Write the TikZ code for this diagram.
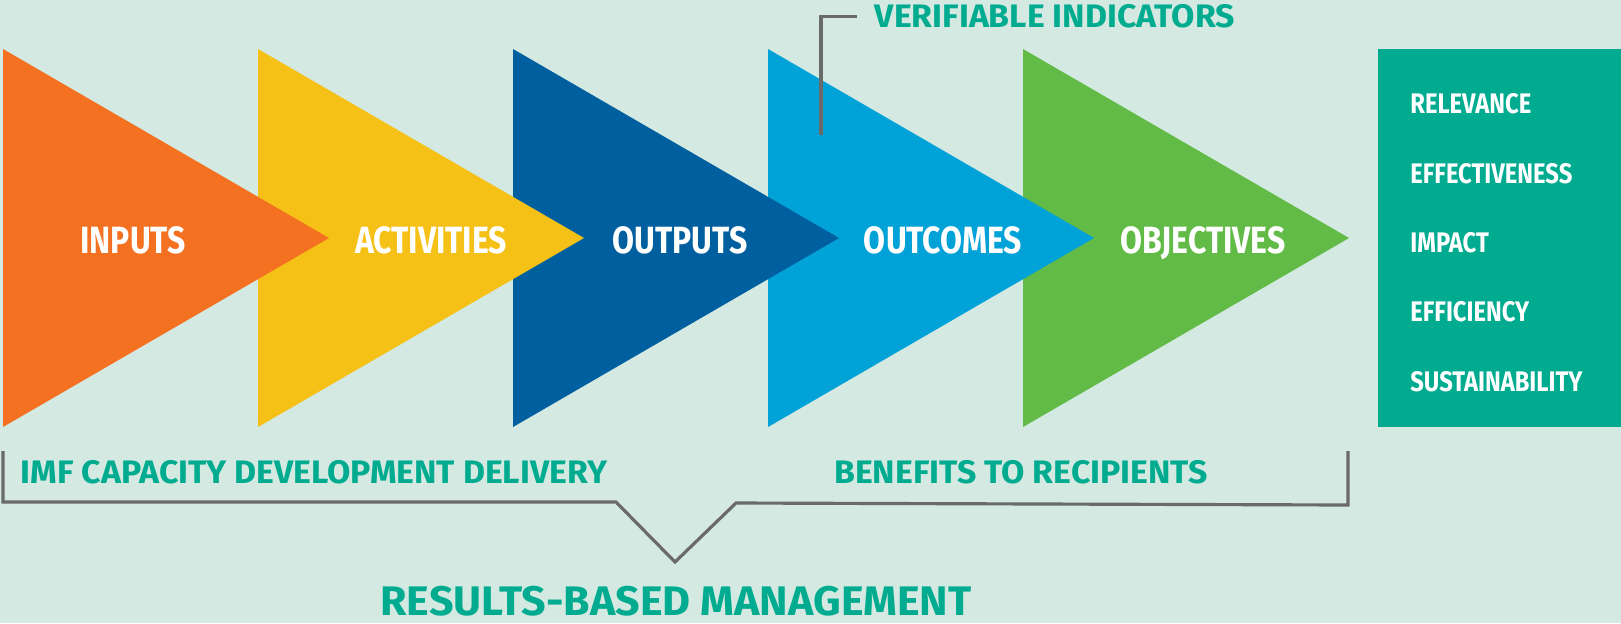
\documentclass[tikz,border=0pt]{standalone}
\usepackage{fontspec}
\setmainfont{Fira Sans}
\newfontfamily\stagefont[FakeStretch=0.84]{Fira Sans}
\newfontfamily\notefont[FakeStretch=1.04]{Fira Sans}
\definecolor{bgmint}{HTML}{D3E9E1}
\definecolor{inorange}{HTML}{F37121}
\definecolor{actyellow}{HTML}{F5C117}
\definecolor{outnavy}{HTML}{005F9E}
\definecolor{ocsky}{HTML}{00A2D7}
\definecolor{objgreen}{HTML}{63BB47}
\definecolor{imfteal}{HTML}{00AB8F}
\definecolor{leadgray}{HTML}{6A6A6A}
\tikzset{
	stagelabel/.style={text=white, anchor=base, inner sep=0pt,
		font=\stagefont\bfseries\fontsize{21.6}{24}\selectfont},
	critlabel/.style={text=white, anchor=base west, inner sep=0pt,
		font=\stagefont\bfseries\fontsize{16.1}{18}\selectfont},
	notelabel/.style={text=imfteal, anchor=base, inner sep=0pt,
		font=\notefont\bfseries\fontsize{18.5}{20}\selectfont},
	leader/.style={draw=leadgray, line width=1.8pt},
}

\begin{document}
\begin{tikzpicture}[x=0.02cm, y=-0.02cm]
			%%%%% START %%%%%
			
			\fill[bgmint] (0, 0) rectangle (1621, 623);
			\useasboundingbox (0, 0) rectangle (1621, 623);
			
			% chain of stages, last one at the bottom
			\fill[objgreen]  (1023, 49) -- (1349, 238) -- (1023, 427) -- cycle;
			\fill[ocsky]     (768, 49) -- (1094, 238) -- (768, 427) -- cycle;
			\fill[outnavy]   (513, 49) -- (839, 238) -- (513, 427) -- cycle;
			\fill[actyellow] (258, 49) -- (584, 238) -- (258, 427) -- cycle;
			\fill[inorange]  (3, 49) -- (329, 238) -- (3, 427) -- cycle;
			
			\node[stagelabel] (inputs) at (133, 253) {INPUTS};
			\node[stagelabel] (activities) at (431, 253) {ACTIVITIES};
			\node[stagelabel] (outputs) at (680, 253) {OUTPUTS};
			\node[stagelabel] (outcomes) at (943, 253) {OUTCOMES};
			\node[stagelabel] (objectives) at (1203, 253) {OBJECTIVES};
			
			% evaluation criteria
			\fill[imfteal] (1378, 49) rectangle (1621, 427);
			\node[critlabel] (relevance) at (1410, 113) {RELEVANCE};
			\node[critlabel] (effectiveness) at (1410, 183) {EFFECTIVENESS};
			\node[critlabel] (impact) at (1410, 252) {IMPACT};
			\node[critlabel] (efficiency) at (1410, 321) {EFFICIENCY};
			\node[critlabel] (sustainability) at (1410, 391) {SUSTAINABILITY};
			
			% indicators callout
			\node[notelabel] (verif) at (1055, 27) {VERIFIABLE INDICATORS};
			\coordinate (leadend) at (821, 135);
			\draw[leader] (verif.west) ++(-17, 1) -| (leadend);
			
			% brace under the chain
			\node[notelabel] (delivery) at (314, 483) {IMF CAPACITY DEVELOPMENT DELIVERY};
			\node[notelabel] (benefits) at (1021, 483) {BENEFITS TO RECIPIENTS};
			\draw[leader] (3, 451) -- (3, 502) -- (616, 502) -- (675, 562) -- (736, 503) -- (1348, 505) -- (1348, 451);
			
			\node[notelabel, font=\notefont\bfseries\fontsize{23.5}{26}\selectfont] (rbm) at (676, 615) {RESULTS-BASED MANAGEMENT};
			
			%%%%% END %%%%%
\end{tikzpicture}
\end{document}
